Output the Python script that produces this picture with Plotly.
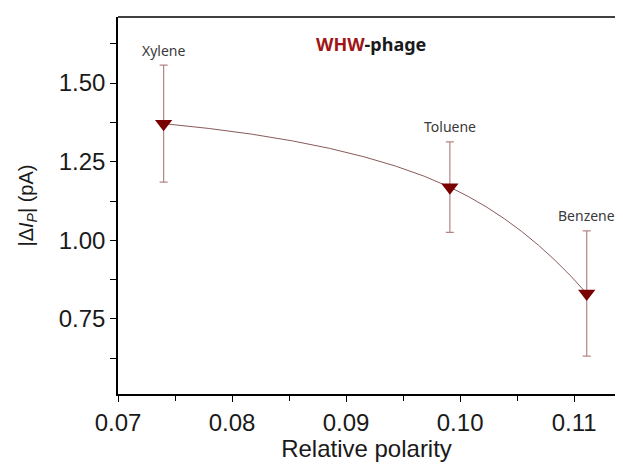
import plotly.graph_objects as go

# data
solvents = ['Xylene', 'Toluene', 'Benzene']
polarity = [0.074, 0.0991, 0.1111]
delta_ip = [1.371, 1.169, 0.831]
err = [0.186, 0.144, 0.199]

dark_red = '#7a0000'

fig = go.Figure()

# fitted curve through the points
fig.add_trace(go.Scatter(
    x=polarity, y=delta_ip, mode='lines',
    line=dict(color='#8a5a5a', width=1, shape='spline', smoothing=1.3),
    hoverinfo='skip', showlegend=False
))

fig.add_trace(go.Scatter(
    x=polarity, y=delta_ip, mode='markers',
    marker=dict(symbol='triangle-down', size=15, color=dark_red),
    error_y=dict(type='data', array=err, color='#b58585', thickness=1.2, width=4),
    showlegend=False
))

# solvent labels above error bars
for name, x, y, e in zip(solvents, polarity, delta_ip, err):
    fig.add_annotation(x=x, y=y + e, text=name, showarrow=False,
                       yshift=15, font=dict(family='Noto Sans', size=14, color='#3a3a3a'))

fig.add_annotation(
    xref='paper', yref='paper', x=0.51, y=0.965,
    text="<b><span style='color:#a01515'>WHW</span>-phage</b>",
    showarrow=False, font=dict(family='Noto Sans', size=18, color='#1a1a1a')
)

# top frame line only (no right side in the reference)
fig.add_shape(type='line', xref='paper', yref='paper', x0=0, x1=1, y0=1, y1=1,
              line=dict(color='black', width=1.6))

# page body adds an 8px margin, so the figure is sized to fit inside it
fig.update_layout(
    width=607, height=454,
    margin=dict(l=110, r=0, t=9, b=68),
    plot_bgcolor='white', paper_bgcolor='white',
    font=dict(family='Liberation Sans', color='#1a1a1a'),
    xaxis=dict(
        range=[0.07, 0.11358], dtick=0.01, tick0=0.07, tickformat='.2f',
        showgrid=False, zeroline=False, automargin=False,
        showline=True, linecolor='black', linewidth=1.6, mirror=False,
        ticks='outside', ticklen=6, tickwidth=1.4, tickcolor='black',
        minor=dict(dtick=0.005, ticks='outside', ticklen=5, tickwidth=1.2, tickcolor='black'),
        tickfont=dict(size=24),
        title=dict(text='Relative polarity', font=dict(size=24), standoff=14)
    ),
    yaxis=dict(
        range=[0.5115, 1.71], dtick=0.25, tick0=0.5, tickformat='.2f',
        showgrid=False, zeroline=False, automargin=False,
        showline=True, linecolor='black', linewidth=1.6, mirror=False,
        ticks='outside', ticklen=6, tickwidth=1.4, tickcolor='black',
        minor=dict(dtick=0.125, ticks='outside', ticklen=6, tickwidth=1.2, tickcolor='black'),
        tickfont=dict(size=24),
        title=dict(text='|Δ<i>I</i><sub><i>P</i></sub>| (pA)', font=dict(size=20), standoff=20)
    )
)

fig.write_html("out.html")
